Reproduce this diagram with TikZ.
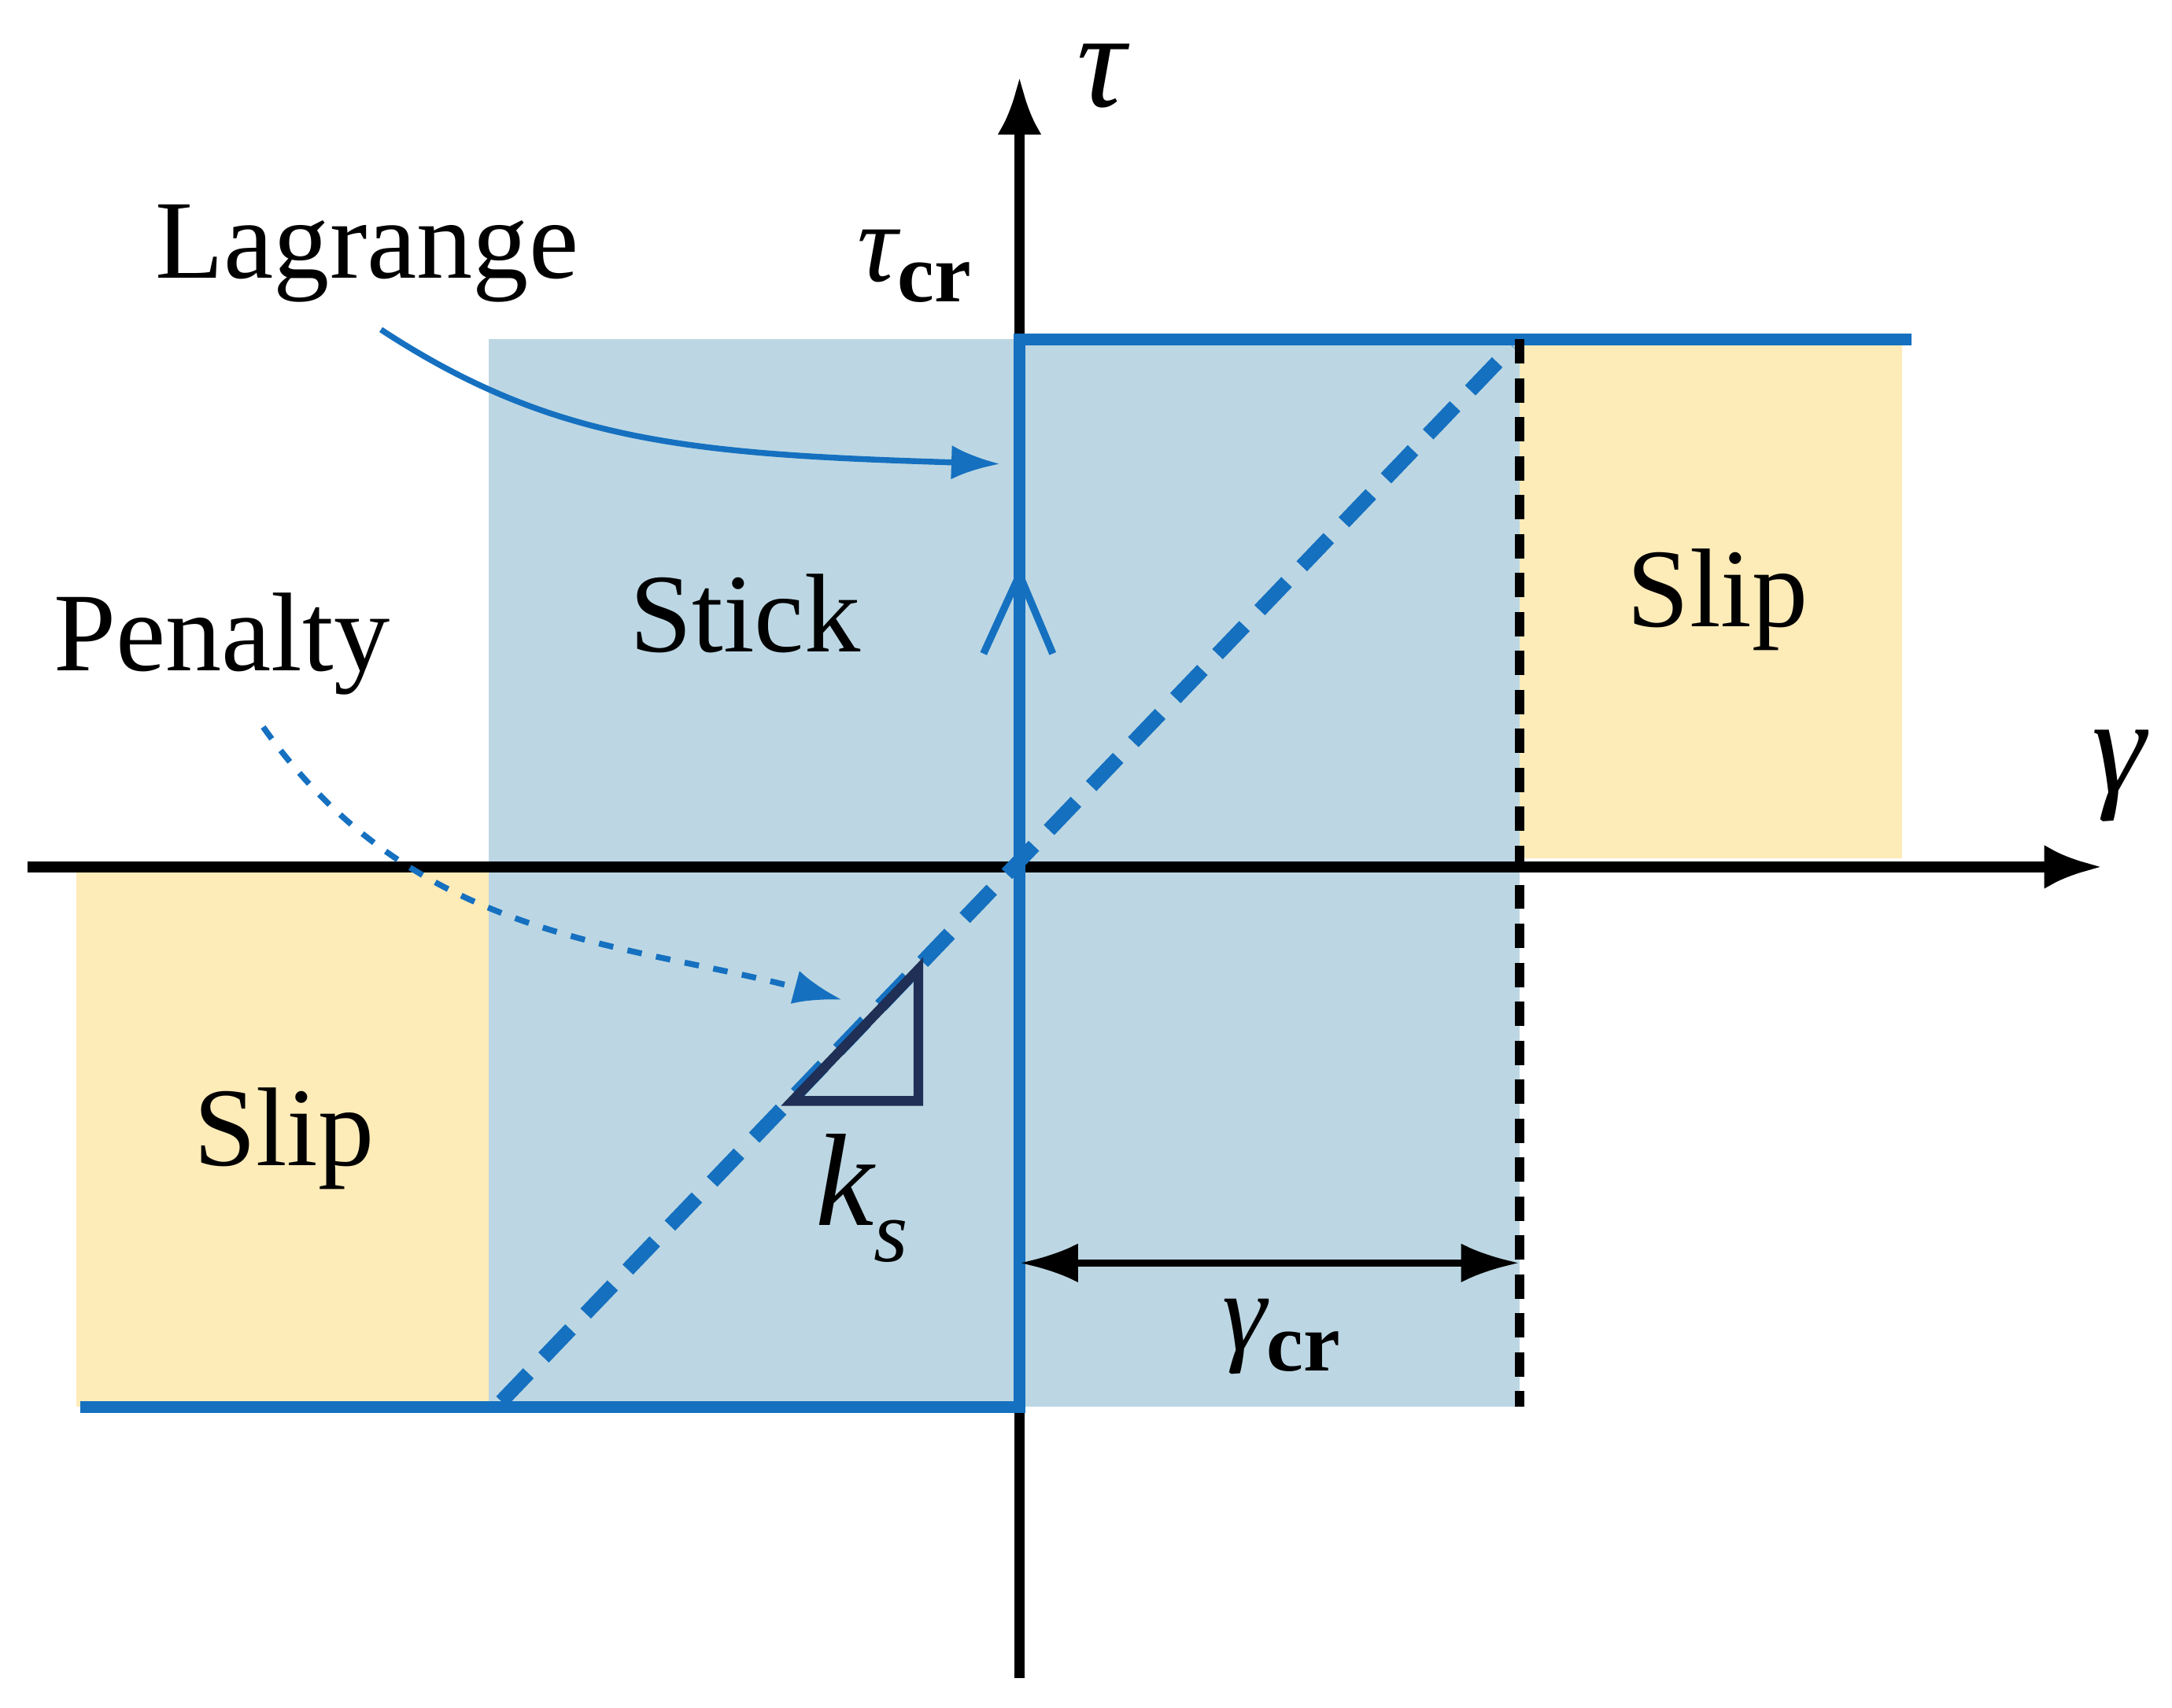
\documentclass[tikz,border=0pt]{standalone}
\usepackage{fontspec}
\setmainfont{Liberation Serif}
\usetikzlibrary{arrows.meta,positioning}
\definecolor{stickblue}{HTML}{BCD7E3}
\definecolor{slipyellow}{HTML}{FDEBB8}
\definecolor{lineblue}{HTML}{1570C0}
\definecolor{navy}{HTML}{1F2F55}
\newcommand{\gr}[1]{{\itshape #1}}
\tikzset{
  axis/.style={line width=2.2pt,-{Latex[length=12pt,width=9pt]}},
  law/.style={lineblue,line width=2.4pt},
  lbl/.style={font=\fontsize{23}{27}\selectfont},
  callout/.style={lineblue,line width=1.2pt,-{Latex[length=10pt,width=7pt]}}
}
\begin{document}
\begin{tikzpicture}[x=0.01cm, y=-0.01cm]
		\useasboundingbox (0,0) rectangle (1568,1233);
		% regions
		\fill[stickblue] (353,245) rectangle (1097,1016);
		\fill[slipyellow] (1097,248) rectangle (1373,620);
		\fill[slipyellow] (55,630) rectangle (353,1016);
		% named points
		\coordinate (o) at (736,626);
		\coordinate (xs) at (20,626);
		\coordinate (xe) at (1518,626);
		\coordinate (ys) at (736,1212);
		\coordinate (ye) at (736,55);
		\coordinate (tl) at (736,245);
		\coordinate (tr) at (1380,245);
		\coordinate (bl) at (58,1016);
		\coordinate (br) at (736,1016);
		\coordinate (g1) at (1097,245);
		\coordinate (g2) at (1097,1016);
		% axes
		\draw[axis] (xs) -- (xe);
		\draw[axis] (ys) -- (ye);
		% stick-slip law
		\draw[law] (tr) -- (tl) -- (br) -- (bl);
		\draw[law, dash pattern=on 8pt off 4.5pt, line width=3pt] (362,1012) -- (1092,250);
		\draw[black, line width=1.8pt, dash pattern=on 5pt off 3pt] (g1) -- (g2);
		\draw[lineblue, line width=1.5pt] (710,472) -- (736,415) -- (760,472);
		% slope triangle
		\node[lbl, font=\fontsize{27}{30}\selectfont] (ks) at (622,865) {\gr{k}\raisebox{-0.6ex}{\fontsize{18}{20}\selectfont\gr{s}}};
		\draw[navy, line width=2pt] (572,795) -- (663,795) -- (663,700) -- cycle;
		% gamma_cr dimension
		\coordinate (d1) at (736,912);
		\coordinate (d2) at (1097,912);
		\draw[line width=1.5pt, {Latex[length=12pt,width=8pt]}-{Latex[length=12pt,width=8pt]}] (d1) -- (d2);
		\node[lbl] (gcr) at (925,965) {\gr{γ}\raisebox{-0.4ex}{\fontsize{17}{20}\selectfont\bfseries cr}};
		% labels
		\node[lbl, font=\fontsize{28}{30}\selectfont] (tau) at (795,55) {\gr{τ}};
		\node[lbl, font=\fontsize{28}{30}\selectfont] (gam) at (1530,560) {\gr{γ}};
		\node[lbl] (taucr) at (660,192) {\gr{τ}\raisebox{-0.4ex}{\fontsize{17}{20}\selectfont\bfseries cr}};
		\node[lbl] (stick) at (538,443) {Stick};
		\node[lbl] (slipr) at (1240,433) {Slip};
		\node[lbl] (slipl) at (205,822) {Slip};
		\node[lbl] (lag) at (265,183) {Lagrange};
		\node[lbl] (pen) at (160,465) {Penalty};
		% callouts
		\coordinate (la) at (275,238);
		\coordinate (lb) at (722,335);
		\coordinate (pa) at (190,525);
		\coordinate (pb) at (608,722);
		\draw[callout] (la) .. controls (400,320) and (500,328) .. (lb);
		\draw[callout, dashed] (pa) .. controls (300,680) and (450,680) .. (pb);
\end{tikzpicture}
\end{document}
